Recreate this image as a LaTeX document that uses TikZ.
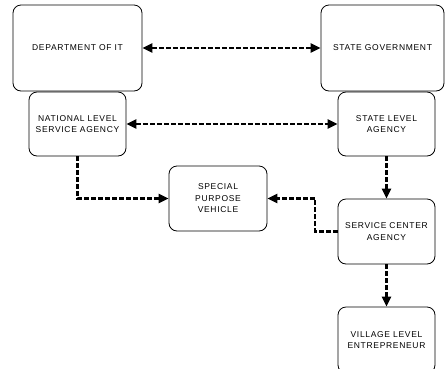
\documentclass[tikz,border=0pt]{standalone}
\usepackage{fontspec}
\newfontfamily\lblfont[LetterSpace=8]{Liberation Sans}
\usetikzlibrary{arrows.meta}
\begin{document}
\begin{tikzpicture}[x=1pt,y=-1pt,
  box/.style={draw=black,line width=0.8pt,rounded corners=8pt,align=center,
    font=\lblfont\fontsize{8.5}{11.5}\selectfont,inner sep=0pt},
  conn/.style={line width=2.6pt,dash pattern=on 5pt off 2pt,
    -{Triangle[length=10pt,width=9pt]}},
  conn2/.style={line width=2.6pt,dash pattern=on 5pt off 2pt,
    {Triangle[length=10pt,width=9pt]}-{Triangle[length=10pt,width=9pt]}}]
\useasboundingbox (0,0) rectangle (445,368);
\clip (0,0) rectangle (445,368);
\node[box,minimum width=129pt,minimum height=86pt] (dit) at (77.5,48) {DEPARTMENT OF IT};
\node[box,minimum width=123pt,minimum height=86pt] (sg) at (382.5,48) {STATE GOVERNMENT};
\node[box,minimum width=97pt,minimum height=64pt] (nlsa) at (77.5,124) {NATIONAL LEVEL\\SERVICE AGENCY};
\node[box,minimum width=97pt,minimum height=64pt] (sla) at (386.5,124) {STATE LEVEL\\AGENCY};
\node[box,minimum width=98pt,minimum height=65pt] (spv) at (218,198.5) {SPECIAL\\PURPOSE\\VEHICLE};
\node[box,minimum width=97pt,minimum height=65pt] (sca) at (386.5,231.5) {SERVICE CENTER\\AGENCY};
\node[box,minimum width=97pt,minimum height=66pt] (vle) at (386.5,340) {VILLAGE LEVEL\\ENTREPRENEUR};
\coordinate (k) at (315,198.5);
\draw[conn2] (dit.east) -- (sg.west);
\draw[conn2] (nlsa.east) -- (sla.west);
\draw[conn] (nlsa.south) |- (spv.west);
\draw[conn] (sla.south) -- (sca.north);
\draw[conn] (sca.west) -| (k) -- (spv.east);
\draw[conn] (sca.south) -- (vle.north);
\end{tikzpicture}
\end{document}
